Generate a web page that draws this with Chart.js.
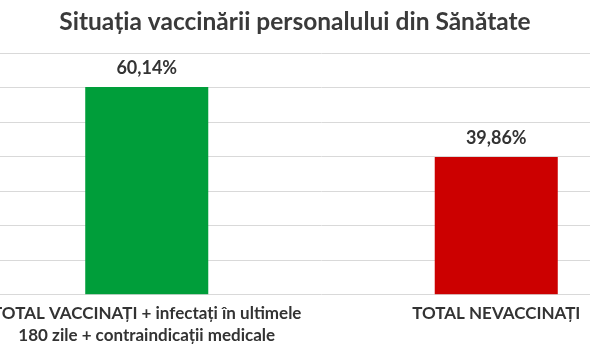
<!DOCTYPE html>
<html>
<head>
<meta charset="utf-8">
<script src="https://cdn.jsdelivr.net/npm/chart.js@4"></script>
<style>
  html, body { margin: 0; padding: 0; background: #fff; overflow: hidden; width: 590px; height: 354px; }
  #wrap { position: absolute; left: -81px; top: 0; width: 752px; height: 354px; }
</style>
</head>
<body>
<div id="wrap"><canvas id="c" width="752" height="354"></canvas></div>
<script>
const titleText = "Situația vaccinării personalului din Sănătate";
const categories = [
  ["TOTAL VACCINAȚI + infectați în ultimele", "180 zile + contraindicații medicale"],
  "TOTAL NEVACCINAȚI"
];
const values = [60.14, 39.86];
const barColors = ["#009e3a", "#cc0000"];
const yMax = 70;
const yStep = 10;

const FONT = "Lato, 'Open Sans', sans-serif";

// Title centred on the visible page (canvas is offset to the left)
const pageTitle = {
  id: 'pageTitle',
  afterDraw(chart) {
    const ctx = chart.ctx;
    ctx.save();
    ctx.font = "bold 24.5px " + FONT;
    ctx.fillStyle = "#3a3a3a";
    ctx.textAlign = "center";
    ctx.textBaseline = "middle";
    ctx.fillText(titleText, 81 + 295, 22);
    ctx.restore();
  }
};

const valueLabels = {
  id: 'valueLabels',
  afterDatasetsDraw(chart) {
    const ctx = chart.ctx;
    const meta = chart.getDatasetMeta(0);
    ctx.save();
    ctx.font = "bold 18px " + FONT;
    ctx.fillStyle = "#333333";
    ctx.textAlign = "center";
    ctx.textBaseline = "middle";
    meta.data.forEach((bar, i) => {
      const v = chart.data.datasets[0].data[i];
      const txt = v.toFixed(2).replace('.', ',') + '%';
      ctx.fillText(txt, bar.x, bar.y - 19);
    });
    ctx.restore();
  }
};

new Chart(document.getElementById('c'), {
  type: 'bar',
  data: {
    labels: categories,
    datasets: [{
      data: values,
      backgroundColor: barColors,
      borderWidth: 0,
      barPercentage: 0.352,
      categoryPercentage: 1
    }]
  },
  options: {
    responsive: false,
    animation: false,
    devicePixelRatio: 1,
    layout: { padding: { left: 53, right: 0, top: 53, bottom: 0 } },
    plugins: {
      legend: { display: false },
      tooltip: { enabled: false },
      title: { display: false }
    },
    scales: {
      x: {
        grid: { display: false, drawTicks: false },
        border: { display: false },
        ticks: {
          color: "#333333",
          font: { family: FONT, size: 17, weight: 'bold', lineHeight: 1.27 },
          padding: 8,
          maxRotation: 0,
          autoSkip: false
        }
      },
      y: {
        min: 0,
        max: yMax,
        grid: { color: "#d9d9d9", lineWidth: 1, drawTicks: false },
        border: { display: false },
        ticks: { display: false, stepSize: yStep }
      }
    }
  },
  plugins: [valueLabels, pageTitle]
});
</script>
</body>
</html>
